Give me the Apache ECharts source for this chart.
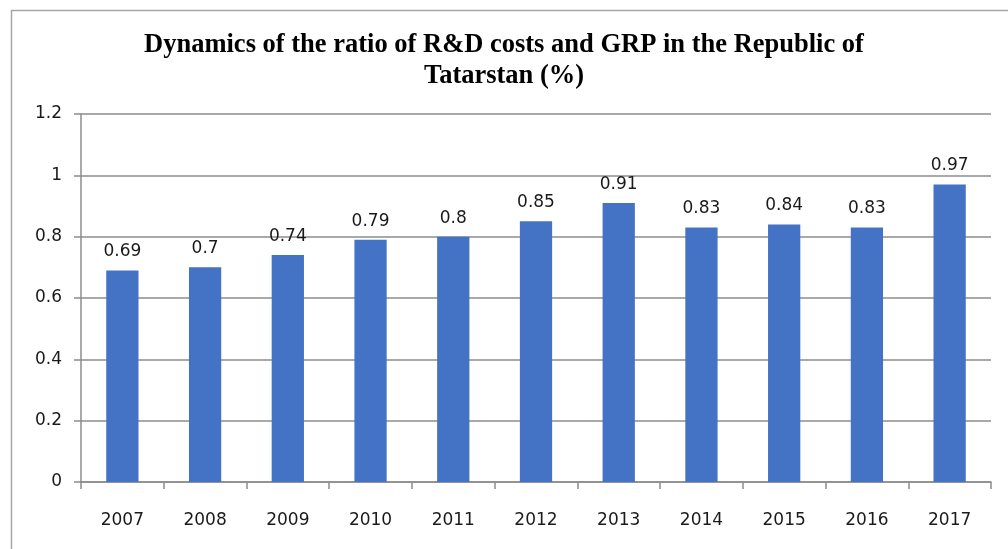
<!DOCTYPE html>
<html><head><meta charset="utf-8">
<script src="https://cdn.jsdelivr.net/npm/echarts@6/dist/echarts.min.js"></script>
<style>html,body{margin:0;padding:0;background:#fff}#c{width:1008px;height:549px}</style>
</head><body><div id="c"></div>
<script>
const years = ['2007','2008','2009','2010','2011','2012','2013','2014','2015','2016','2017'];
const ratio = [0.69,0.7,0.74,0.79,0.8,0.85,0.91,0.83,0.84,0.83,0.97];
const titleText = 'Dynamics of the ratio of R&D costs and GRP in the Republic of\nTatarstan (%)';
const chart = echarts.init(document.getElementById('c'), null, {renderer:'canvas'});
const lblFont = '"DejaVu Sans", sans-serif';
chart.setOption({
  animation:false,
  backgroundColor:'#fff',
  graphic:[{type:'rect',left:9,top:8,shape:{width:1100,height:600},style:{fill:'none',stroke:'#a6a6a6',lineWidth:1.5},silent:true}],
  title:{text:titleText,left:'center',top:25,textStyle:{fontFamily:'"Liberation Serif", serif',fontWeight:'bold',fontSize:26.5,lineHeight:31,color:'#000'}},
  grid:{left:81,right:17,top:114,bottom:67},
  xAxis:{type:'category',data:years,boundaryGap:true,
    axisLine:{lineStyle:{color:'#8c8c8c',width:1.5}},
    axisTick:{show:true,length:7,alignWithLabel:false,lineStyle:{color:'#8c8c8c',width:1.5}},
    axisLabel:{margin:30,fontFamily:lblFont,fontSize:17,color:'#1a1a1a'}},
  yAxis:{type:'value',min:0,max:1.2,interval:0.2,
    axisLine:{show:true,lineStyle:{color:'#8c8c8c',width:1.5}},
    axisTick:{show:true,length:7,lineStyle:{color:'#8c8c8c',width:1.5}},
    splitLine:{lineStyle:{color:'#8c8c8c',width:1.5}},
    axisLabel:{margin:19,fontFamily:lblFont,fontSize:17,color:'#1a1a1a',formatter:v=>String(Math.round(v*10)/10)}},
  series:[{type:'bar',data:ratio,barWidth:'39%',itemStyle:{color:'#4472C4'},
    label:{show:true,position:'top',distance:10,fontFamily:lblFont,fontSize:17,color:'#1a1a1a'}}]
});
</script></body></html>
